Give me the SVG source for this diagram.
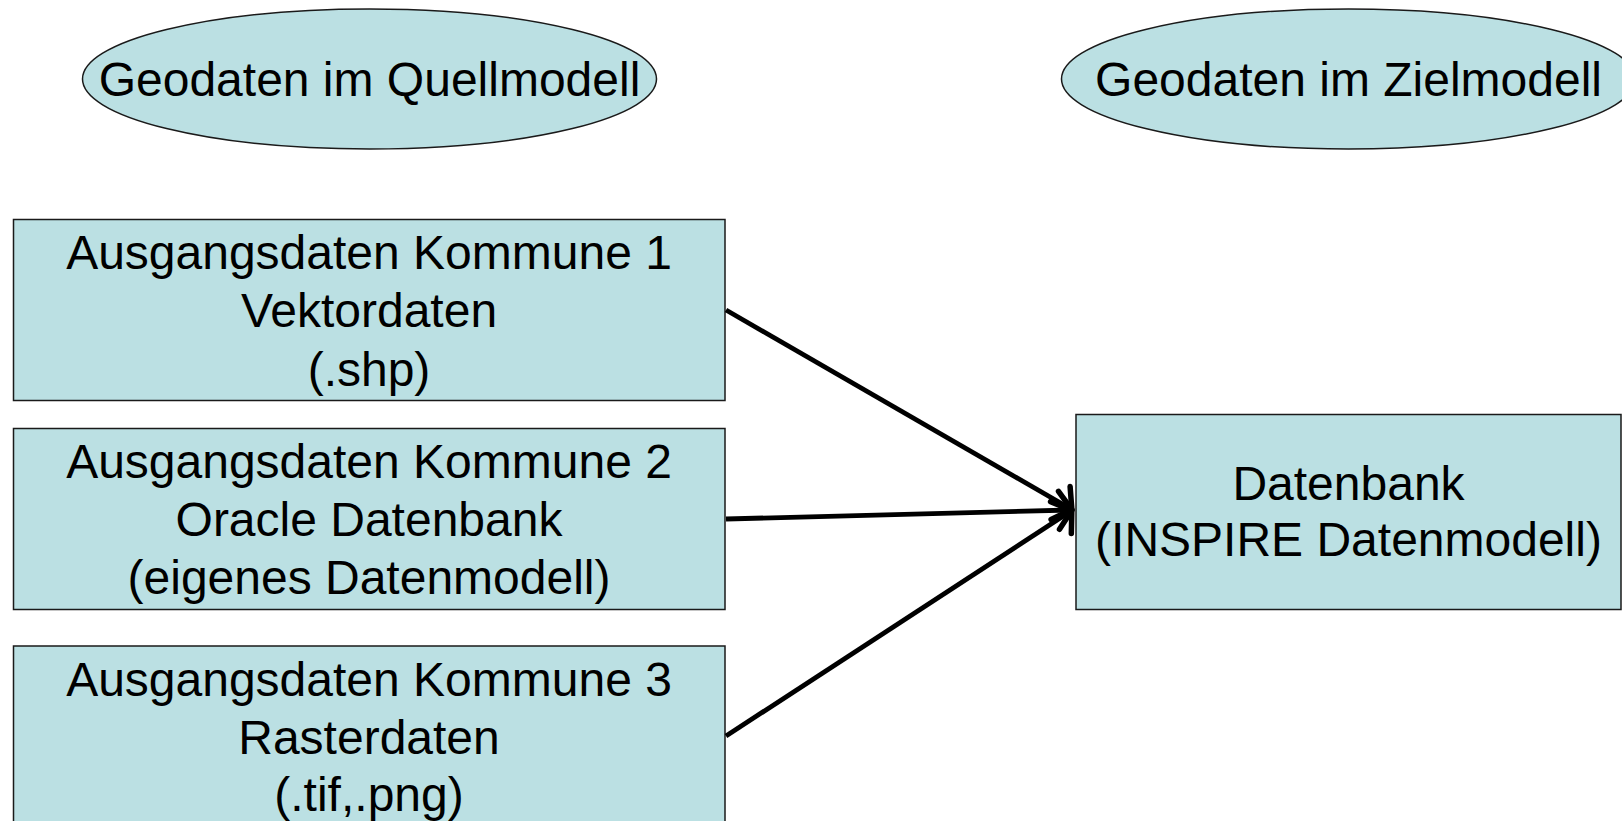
<svg xmlns="http://www.w3.org/2000/svg" width="1622" height="821" viewBox="0 0 1622 821">
  <defs>
    <style>
      .shape { fill: #BBE0E3; stroke: #1a1a1a; stroke-width: 1.5; }
      .lbl { font-family: "Liberation Sans", Arial, sans-serif; font-size: 48px; fill: #000; text-anchor: middle; }
      .conn { stroke: #000; stroke-width: 4.8; fill: none; stroke-linecap: butt; }
    </style>
    <marker id="arr" markerUnits="userSpaceOnUse" markerWidth="40" markerHeight="50" viewBox="-20 -25 40 50" refX="0" refY="0" orient="auto" overflow="visible">
      <path d="M-12,-19 L1,0 L-12,19" fill="none" stroke="#000" stroke-width="5.5" stroke-linejoin="round" stroke-linecap="round"/>
    </marker>
  </defs>
  <rect width="1622" height="821" fill="#fff"/>

  <g id="ellipse-quell">
    <ellipse class="shape" cx="369.5" cy="79" rx="287" ry="70"/>
    <text class="lbl" x="369.5" y="96">Geodaten im Quellmodell</text>
  </g>

  <g id="ellipse-ziel">
    <ellipse class="shape" cx="1348.5" cy="79" rx="287" ry="70"/>
    <text class="lbl" x="1348.5" y="96">Geodaten im Zielmodell</text>
  </g>

  <g id="kommune1">
    <rect class="shape" x="13.5" y="219.5" width="711.5" height="181"/>
    <text class="lbl" x="369" y="269">Ausgangsdaten Kommune 1</text>
    <text class="lbl" x="369" y="327">Vektordaten</text>
    <text class="lbl" x="369" y="386">(.shp)</text>
  </g>

  <g id="kommune2">
    <rect class="shape" x="13.5" y="428.5" width="711.5" height="181"/>
    <text class="lbl" x="369" y="478">Ausgangsdaten Kommune 2</text>
    <text class="lbl" x="369" y="536">Oracle Datenbank</text>
    <text class="lbl" x="369" y="594">(eigenes Datenmodell)</text>
  </g>

  <g id="kommune3">
    <rect class="shape" x="13.5" y="646" width="711.5" height="190"/>
    <text class="lbl" x="369" y="696">Ausgangsdaten Kommune 3</text>
    <text class="lbl" x="369" y="754">Rasterdaten</text>
    <text class="lbl" x="369" y="811">(.tif,.png)</text>
  </g>

  <g id="datenbank">
    <rect class="shape" x="1076" y="414.5" width="545" height="195"/>
    <text class="lbl" x="1348.5" y="500">Datenbank</text>
    <text class="lbl" x="1348.5" y="556">(INSPIRE Datenmodell)</text>
  </g>

  <g id="connectors">
    <line class="conn" x1="726" y1="310" x2="1071" y2="509" marker-end="url(#arr)"/>
    <line class="conn" x1="726" y1="519" x2="1071" y2="510" stroke-width="6.3" marker-end="url(#arr)"/>
    <line class="conn" x1="726" y1="736" x2="1071" y2="511" marker-end="url(#arr)"/>
  </g>
</svg>
